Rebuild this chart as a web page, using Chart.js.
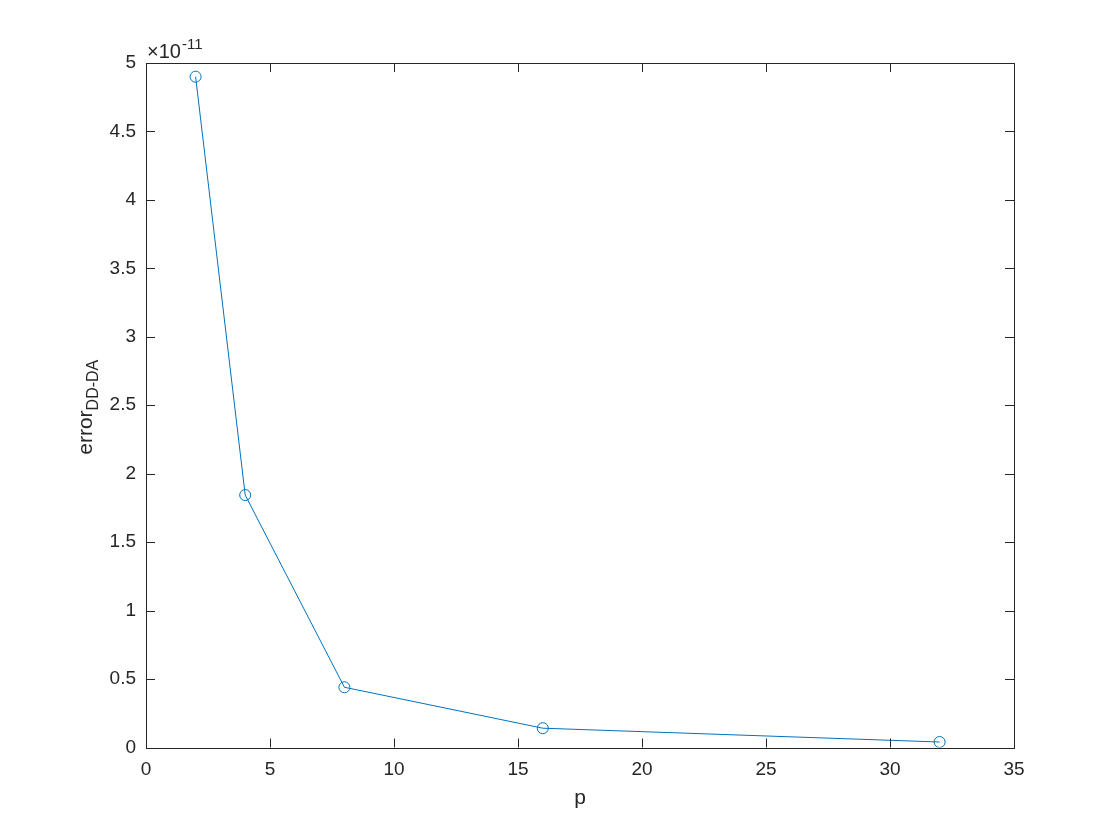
<!DOCTYPE html>
<html>
<head>
<meta charset="utf-8">
<script src="https://cdn.jsdelivr.net/npm/chart.js@4/dist/chart.umd.min.js"></script>
<style>
  html, body { margin: 0; padding: 0; background: #fff; }
  #wrap { width: 1120px; height: 840px; position: relative; }
</style>
</head>
<body>
<div id="wrap"><canvas id="chart"></canvas></div>
<script>
// p values and error (in units of 1e-11)
const pValues = [2, 4, 8, 16, 32];
const errorScaled = [4.90, 1.844, 0.44, 0.141, 0.04];
const yExponent = -11;
const xTicks = [0, 5, 10, 15, 20, 25, 30, 35];
const yTicks = [0, 0.5, 1, 1.5, 2, 2.5, 3, 3.5, 4, 4.5, 5];

const lineColor = '#0072BD';
const axisColor = '#262626';
const fontFamily = '"Liberation Sans", Arial, Helvetica, sans-serif';

// MATLAB style box with inward ticks, exponent label and subscripted y title
const matlabAxes = {
    id: 'matlabAxes',
    afterDraw(chart) {
        const ctx = chart.ctx;
        const a = chart.chartArea;
        const xs = chart.scales.x;
        const ys = chart.scales.y;
        const tick = 9;
        ctx.save();
        ctx.strokeStyle = axisColor;
        ctx.lineWidth = 1;
        ctx.strokeRect(Math.round(a.left) + 0.5, Math.round(a.top) + 0.5,
            Math.round(a.right - a.left), Math.round(a.bottom - a.top));
        ctx.beginPath();
        xTicks.forEach(v => {
            const px = Math.round(xs.getPixelForValue(v)) + 0.5;
            ctx.moveTo(px, a.bottom); ctx.lineTo(px, a.bottom - tick);
            ctx.moveTo(px, a.top); ctx.lineTo(px, a.top + tick);
        });
        yTicks.forEach(v => {
            const py = Math.round(ys.getPixelForValue(v)) + 0.5;
            ctx.moveTo(a.left, py); ctx.lineTo(a.left + tick, py);
            ctx.moveTo(a.right, py); ctx.lineTo(a.right - tick, py);
        });
        ctx.stroke();

        // exponent label
        ctx.fillStyle = axisColor;
        ctx.textBaseline = 'alphabetic';
        ctx.textAlign = 'left';
        ctx.font = '20px ' + fontFamily;
        let x = a.left + 1;
        const base = a.top - 5;
        ctx.fillText('\u00d710', x, base);
        x += ctx.measureText('\u00d710').width + 1;
        ctx.font = '15px ' + fontFamily;
        ctx.fillText(String(yExponent), x, base - 9);

        // x title
        ctx.font = '21px ' + fontFamily;
        ctx.textAlign = 'center';
        ctx.fillText('p', (a.left + a.right) / 2, a.bottom + 56);

        // y title with subscript
        ctx.translate(a.left - 54, (a.top + a.bottom) / 2 + 2);
        ctx.rotate(-Math.PI / 2);
        ctx.font = '21px ' + fontFamily;
        const w1 = ctx.measureText('error').width;
        ctx.font = '16px ' + fontFamily;
        const w2 = ctx.measureText('DD-DA').width;
        const start = -(w1 + w2) / 2;
        ctx.textAlign = 'left';
        ctx.font = '21px ' + fontFamily;
        ctx.fillText('error', start, 0);
        ctx.font = '16px ' + fontFamily;
        ctx.fillText('DD-DA', start + w1, 6);
        ctx.restore();
    }
};

const ctx = document.getElementById('chart').getContext('2d');
const chart = new Chart(ctx, {
    type: 'scatter',
    data: {
        datasets: [{
            data: pValues.map((p, i) => ({ x: p, y: errorScaled[i] })),
            showLine: true,
            borderColor: lineColor,
            borderWidth: 1,
            backgroundColor: 'rgba(0,0,0,0)',
            pointBorderColor: lineColor,
            pointBackgroundColor: 'rgba(0,0,0,0)',
            pointBorderWidth: 1,
            pointRadius: 5.5,
            pointHoverRadius: 5.5
        }]
    },
    options: {
        responsive: true,
        maintainAspectRatio: false,
        animation: false,
        layout: { padding: { top: 63, right: 106, left: 0, bottom: 0 } },
        plugins: {
            legend: { display: false },
            tooltip: { enabled: false }
        },
        scales: {
            x: {
                type: 'linear',
                min: 0, max: 35,
                afterFit: s => { s.height = 92.5; },
                afterBuildTicks: s => { s.ticks = xTicks.map(v => ({ value: v })); },
                grid: { display: false, drawTicks: false },
                border: { display: false },
                ticks: {
                    color: axisColor,
                    padding: 11,
                    maxRotation: 0,
                    font: { family: fontFamily, size: 19 }
                }
            },
            y: {
                type: 'linear',
                min: 0, max: 5,
                afterFit: s => { s.width = 146; },
                afterBuildTicks: s => { s.ticks = yTicks.map(v => ({ value: v })); },
                grid: { display: false, drawTicks: false },
                border: { display: false },
                ticks: {
                    color: axisColor,
                    padding: 10,
                    font: { family: fontFamily, size: 19 },
                    callback: v => String(+v.toFixed(2))
                }
            }
        }
    },
    plugins: [matlabAxes]
});
</script>
</body>
</html>
